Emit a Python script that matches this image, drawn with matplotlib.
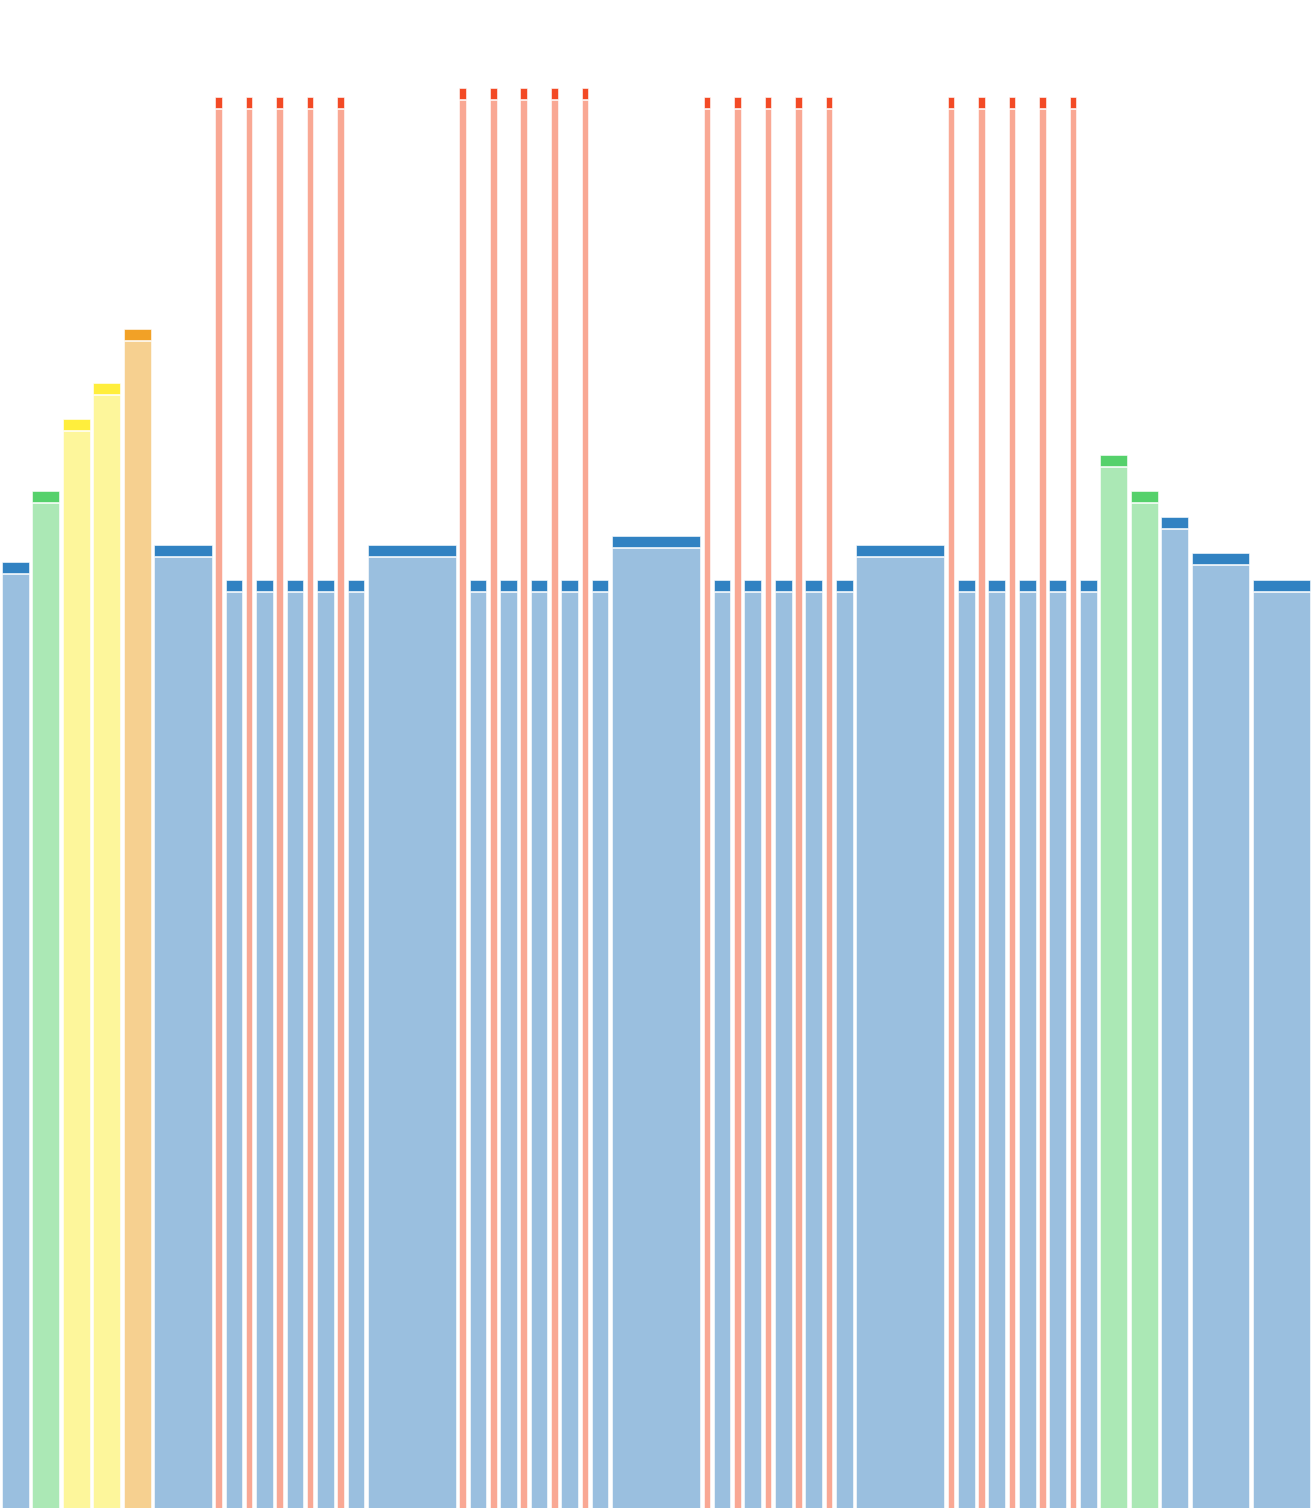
import matplotlib
matplotlib.use("Agg")
import matplotlib.pyplot as plt

# ---- data ----
pair_w = [1/3, 2/3] * 5
weights = ([1, 1, 1, 1, 1, 2] + pair_w + [3] + pair_w + [3] + pair_w + [3] + pair_w
           + [1, 1, 1, 2, 2])

red1, red2, thin = 139.95, 140.85, 91.6
def pairs(r):
    return [r, thin] * 5

values = ([93.4, 100.55, 107.7, 111.3, 116.7, 95.15] + pairs(red1) + [95.15]
          + pairs(red2) + [96.05] + pairs(red1) + [95.15] + pairs(red1)
          + [104.1, 100.55, 97.9, 94.3, 91.6])

kinds = (["blue", "green", "yellow", "yellow", "orange", "blue"] + ["red", "blue"] * 5
         + ["blue"] + ["red", "blue"] * 5 + ["blue"] + ["red", "blue"] * 5
         + ["blue"] + ["red", "blue"] * 5 + ["green", "green", "blue", "blue", "blue"])

body_colors = {"blue": "#9abfdf", "green": "#abe8b5", "yellow": "#fdf69b",
               "orange": "#f6d090", "red": "#f9a894"}
cap_colors = {"blue": "#3182c2", "green": "#55d16b", "yellow": "#ffee3c",
              "orange": "#f2a126", "red": "#f34a25"}

# ---- figure ----
W, H = 1312, 1508
fig = plt.figure(figsize=(W / 100, H / 100), dpi=100)
ax = fig.add_axes([0, 0, 1, 1])
total = sum(weights)
ax.set_xlim(0, total)
ax.set_ylim(0, H / 10)
ax.axis("off")

px = total / W          # one pixel in x data units
gap = 3.6 * px
cap_gap = 0.1
cap_h = 1.06

x = 0.0
for w, v, k in zip(weights, values, kinds):
    left = x + gap / 2
    width = w - gap
    ax.bar(left, v, width=width, align="edge", color=body_colors[k],
           edgecolor="white", linewidth=0.4)
    ax.bar(left, cap_h, bottom=v + cap_gap, width=width, align="edge",
           color=cap_colors[k], edgecolor="white", linewidth=0.4)
    x += w

fig.savefig("out.png", dpi=100, facecolor="white")
